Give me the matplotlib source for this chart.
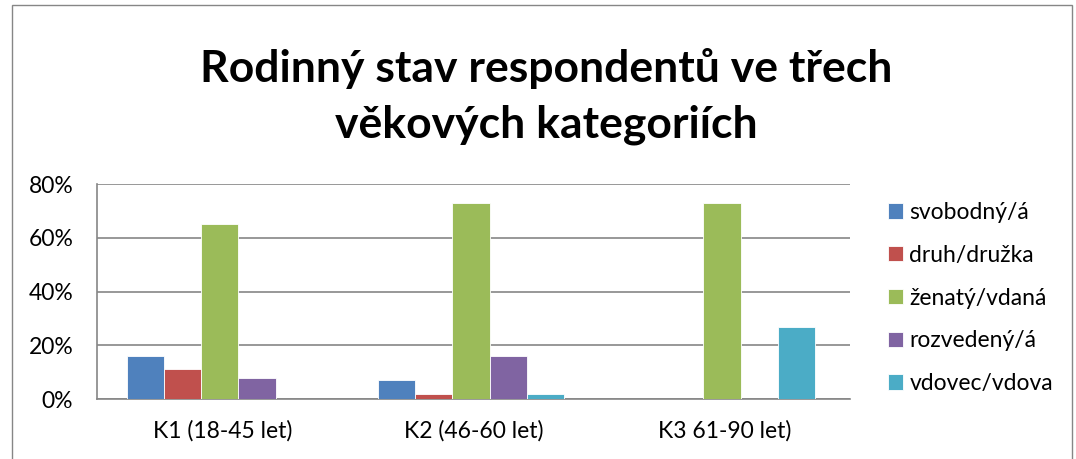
import numpy as np
import matplotlib.pyplot as plt
from matplotlib.patches import Rectangle
from matplotlib.ticker import PercentFormatter

plt.rcParams['font.family'] = ['Lato', 'DejaVu Sans']

categories = ['K1 (18-45 let)', 'K2 (46-60 let)', 'K3 61-90 let)']
series = ['svobodný/á', 'druh/družka', 'ženatý/vdaná', 'rozvedený/á', 'vdovec/vdova']
values = {
    'svobodný/á':   [16, 7, 0],
    'druh/družka':  [11, 2, 0],
    'ženatý/vdaná': [65, 73, 73],
    'rozvedený/á':  [8, 16, 0],
    'vdovec/vdova': [0, 2, 27],
}
colors = ['#4F81BD', '#C0504D', '#9BBB59', '#8064A2', '#4BACC6']
title = 'Rodinný stav respondentů ve třech\nvěkových kategoriích'

fig = plt.figure(figsize=(10.76, 4.59), dpi=100)
ax = fig.add_axes([0.090, 0.1307, 0.700, 0.468])

x = np.arange(len(categories))
w = 0.148
for i, (name, col) in enumerate(zip(series, colors)):
    ax.bar(x + (i - 2) * w - 0.01, values[name], width=w, color=col,
           edgecolor='white', linewidth=0.6, label=name, zorder=3)

ax.set_xlim(-0.5, 2.5)
ax.set_ylim(0, 80)
ax.set_yticks([0, 20, 40, 60, 80])
ax.yaxis.set_major_formatter(PercentFormatter(decimals=0))
ax.set_xticks(x)
ax.set_xticklabels(categories)
ax.tick_params(axis='x', length=0, labelsize=16.5, pad=15)
ax.tick_params(axis='y', length=0, labelsize=16.5, pad=17)
ax.grid(axis='y', color='#868686', linewidth=1.2, zorder=0)
for s in ['top', 'right']:
    ax.spines[s].set_visible(False)
for s in ['left', 'bottom']:
    ax.spines[s].set_color('#868686')
    ax.spines[s].set_linewidth(1.2)

fig.text(0.508, 0.79, title, ha='center', va='center', fontsize=32,
         fontweight='bold', linespacing=1.45)

ax.legend(loc='upper left', bbox_to_anchor=(0.825, 0.56), bbox_transform=fig.transFigure,
          frameon=False, fontsize=16.5, handlelength=0.65, handleheight=0.65,
          handletextpad=0.3, labelspacing=0.95, borderpad=0, borderaxespad=0)

fig.patches.append(Rectangle((0.011, -0.01), 0.985, 0.999, transform=fig.transFigure,
                             fill=False, edgecolor='#868686', linewidth=1))

fig.savefig('out.png', dpi=100)
